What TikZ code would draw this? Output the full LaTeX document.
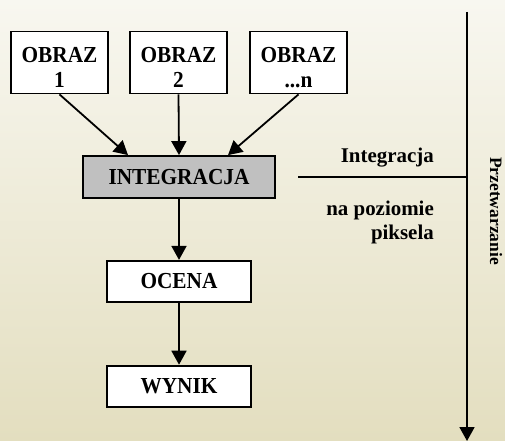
\documentclass[tikz,border=0pt]{standalone}
\usepackage{fontspec}
\setmainfont{Liberation Serif}
\newfontfamily\boxfont[FakeStretch=0.93]{Liberation Serif}
\usetikzlibrary{arrows.meta,positioning,calc}
\definecolor{bgtop}{RGB}{248,247,240}
\definecolor{bgbottom}{RGB}{227,222,191}
\definecolor{boxgray}{RGB}{192,192,192}
\newcommand{\obrazlift}{\rule{0pt}{24.5bp}}

\begin{document}
\begin{tikzpicture}[x=1bp, y=-1bp,
    every node/.style={font=\boxfont\bfseries\fontsize{23}{25}\selectfont, inner sep=0pt},
    box/.style={draw, line width=1.8bp, fill=white, align=center},
    obrazbox/.style={box, minimum width=97bp, minimum height=62bp},
    stagebox/.style={box, minimum width=144bp, minimum height=41bp},
    sidelabel/.style={font=\bfseries\fontsize{21}{25}\selectfont, align=right},
    flow/.style={line width=1.8bp, -{Triangle[length=14bp,width=15bp]}}]
			\shade[top color=bgtop, bottom color=bgbottom] (0,0) rectangle (505,441);
			\useasboundingbox (0,0) rectangle (505,441);
			% input images
			\foreach \n/\x/\t in {1/59.5/1, 2/178.5/2, n/298.5/{...n}} {
				\node[obrazbox] (obraz\n) at (\x,62.5) {\obrazlift OBRAZ\\\t};
			}
			\node[box, fill=boxgray, minimum width=192bp, minimum height=42bp] (integracja) at (179,177) {INTEGRACJA};
			\node[stagebox, below=61bp of integracja] (ocena) {OCENA};
			\node[stagebox, below=62bp of ocena] (wynik) {WYNIK};
			\draw[flow] (obraz1.south) -- ([xshift=-51bp]integracja.north);
			\draw[flow] (obraz2.south) -- (integracja.north);
			\draw[flow] (obrazn.south) -- ([xshift=49bp]integracja.north);
			\draw[flow] (integracja) -- (ocena);
			\draw[flow] (ocena) -- (wynik);
			% processing axis
			\coordinate (axtop) at (467,12);
			\coordinate (axend) at (467,441);
			\coordinate (level) at (298,177);
			\draw[flow] (axtop) -- (axend);
			\draw[line width=1.8bp] (level) -- (level -| axtop);
			\node[sidelabel, anchor=base east] (poziom) at (434,163) {Integracja};
			\node[sidelabel, anchor=base east] (piksel) at (434,240) {na poziomie\\piksela};
			\node[font=\bfseries\fontsize{17.5}{20}\selectfont, rotate=-90] (przetw) at (496,211) {Przetwarzanie};
		\end{tikzpicture}
\end{document}
